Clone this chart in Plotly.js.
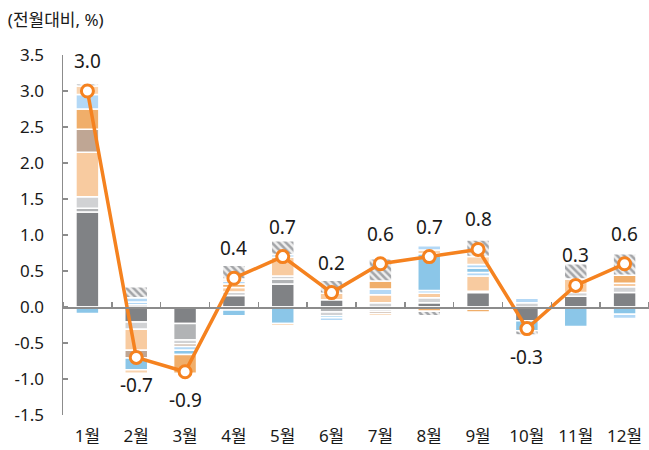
<!DOCTYPE html>
<html>
<head>
<meta charset="utf-8">
<script src="https://cdn.plot.ly/plotly-3.0.1.min.js"></script>
<style>
  html, body { margin: 0; padding: 0; background: #fff; }
  #chart { width: 649px; height: 450px; }
</style>
</head>
<body>
<div id="chart"></div>
<script>
// months and headline (전월대비, %)
var months = ['1월', '2월', '3월', '4월', '5월', '6월', '7월', '8월', '9월', '10월', '11월', '12월'];
var headline = [3.0, -0.7, -0.9, 0.4, 0.7, 0.2, 0.6, 0.7, 0.8, -0.3, 0.3, 0.6];

// contributions, stacked bottom to top (null = no segment)
var darkGrey   = [1.32, -0.21, -0.23, 0.16, 0.32, 0.10, -0.03, 0.06, 0.20, -0.19, 0.15, 0.20];
var midGrey    = [0.05, 0.03, -0.23, null, 0.07, -0.07, -0.03, null, null, null, null, null];
var lightGrey  = [0.16, -0.10, -0.05, 0.05, 0.04, -0.05, 0.06, 0.07, 0.02, 0.06, 0.05, 0.08];
var peach      = [0.62, -0.29, null, 0.06, 0.26, 0.09, 0.11, 0.06, 0.21, null, 0.19, 0.05];
var taupe      = [0.32, -0.11, -0.04, -0.04, null, null, -0.03, null, null, null, null, null];
var orangeA    = [0.28, null, null, 0.05, null, null, null, null, -0.03, null, null, 0.11];
var lightBlueA = [0.20, 0.04, -0.05, 0.04, 0.04, null, 0.08, 0.04, 0.05, 0.06, null, null];
var blue       = [-0.09, -0.16, -0.06, -0.08, -0.23, -0.03, null, 0.51, 0.06, -0.14, -0.27, -0.10];
var lightBlueB = [null, 0.06, null, null, null, -0.04, null, null, 0.05, null, null, -0.06];
var peach2     = [0.12, -0.05, null, 0.03, -0.03, null, -0.03, 0.05, 0.11, null, null, null];
var orangeB    = [null, null, -0.26, null, null, null, 0.11, -0.06, -0.04, null, null, null];
var lightBlueC = [null, null, null, null, null, null, null, 0.06, null, null, null, null];
var residual   = [0.03, 0.15, null, 0.19, 0.19, 0.18, 0.31, -0.06, 0.23, -0.06, 0.21, 0.30];

var yTicks = [-1.5, -1.0, -0.5, 0.0, 0.5, 1.0, 1.5, 2.0, 2.5, 3.0, 3.5];
var yTickText = ['-1.5', '-1.0', '-0.5', '0.0', '0.5', '1.0', '1.5', '2.0', '2.5', '3.0', '3.5'];

var FONT = 'Noto Sans, Noto Sans CJK KR, sans-serif';
var TEXT = '#1a1a1a';
var AXIS = '#8c8c8c';
var LINE = '#f5821f';

function barTrace(name, values, color) {
    return {
        type: 'bar',
        name: name,
        x: months,
        y: values,
        marker: { color: color, line: { color: '#ffffff', width: 1.5 } },
        hoverinfo: 'x+y+name'
    };
}

var traces = [
    barTrace('dark grey', darkGrey, '#808285'),
    barTrace('mid grey', midGrey, '#b1b3b5'),
    barTrace('light grey', lightGrey, '#d1d2d4'),
    barTrace('peach', peach, '#f8cba0'),
    barTrace('taupe', taupe, '#bfa694'),
    barTrace('orange A', orangeA, '#f0ae6a'),
    barTrace('light blue A', lightBlueA, '#b3d8f6'),
    barTrace('blue', blue, '#8bc6e8'),
    barTrace('light blue B', lightBlueB, '#b3d8f6'),
    barTrace('peach 2', peach2, '#f9d4b0'),
    barTrace('orange B', orangeB, '#f0ae6a'),
    barTrace('light blue C', lightBlueC, '#b3d8f6')
];

// residual: hatched
var res = barTrace('residual', residual, '#ffffff');
res.marker.pattern = { shape: '\\', fgcolor: '#a3a5a8', bgcolor: '#eeeeee', size: 5, solidity: 0.5 };
traces.push(res);

// headline line, on the overlay axis that also draws the zero line ticks
traces.push({
    type: 'scatter',
    mode: 'lines+markers',
    name: '전월대비',
    x: months,
    y: headline,
    xaxis: 'x2',
    yaxis: 'y',
    line: { color: LINE, width: 3.5 },
    marker: { size: 12, color: '#ffffff', line: { color: LINE, width: 3 } },
    cliponaxis: false
});

var annotations = headline.map(function (v, i) {
    return {
        x: months[i], y: v, xref: 'x', yref: 'y',
        text: v.toFixed(1),
        showarrow: false,
        yanchor: 'middle',
        yshift: v >= 0 ? 30 : -28,
        font: { family: FONT, size: 19, color: TEXT }
    };
});

var layout = {
    width: 649,
    height: 450,
    margin: { l: 63, r: 0, t: 55, b: 35 },
    paper_bgcolor: '#ffffff',
    plot_bgcolor: '#ffffff',
    barmode: 'relative',
    bargap: 0.53,
    showlegend: false,
    font: { family: FONT, size: 17, color: TEXT },
    title: {
        text: '(전월대비, %)',
        x: 0.012, xref: 'container', xanchor: 'left',
        y: 0.955, yref: 'container', yanchor: 'middle',
        font: { family: FONT, size: 17, color: TEXT }
    },
    xaxis: {
        type: 'category',
        range: [-0.5, 11.5],
        showline: false,
        showgrid: false,
        zeroline: false,
        ticks: '',
        ticklabelstandoff: 9,
        tickfont: { family: FONT, size: 17, color: TEXT }
    },
    xaxis2: {
        type: 'category',
        overlaying: 'x',
        anchor: 'free',
        position: 0.3,
        side: 'top',
        range: [-0.5, 11.5],
        tickson: 'boundaries',
        ticks: 'outside',
        ticklen: 5,
        tickwidth: 1.5,
        tickcolor: AXIS,
        showline: true,
        linecolor: AXIS,
        linewidth: 1.5,
        showgrid: false,
        zeroline: false,
        showticklabels: false
    },
    yaxis: {
        range: [-1.5, 3.5],
        tickvals: yTicks,
        ticktext: yTickText,
        ticks: 'inside',
        ticklen: 5,
        tickwidth: 1.5,
        tickcolor: AXIS,
        showline: true,
        linecolor: AXIS,
        linewidth: 1.5,
        showgrid: false,
        zeroline: false,
        ticklabelstandoff: 14,
        tickfont: { family: FONT, size: 17, color: TEXT }
    },
    annotations: annotations
};

Plotly.newPlot('chart', traces, layout, { displayModeBar: false, staticPlot: true });
</script>
</body>
</html>
